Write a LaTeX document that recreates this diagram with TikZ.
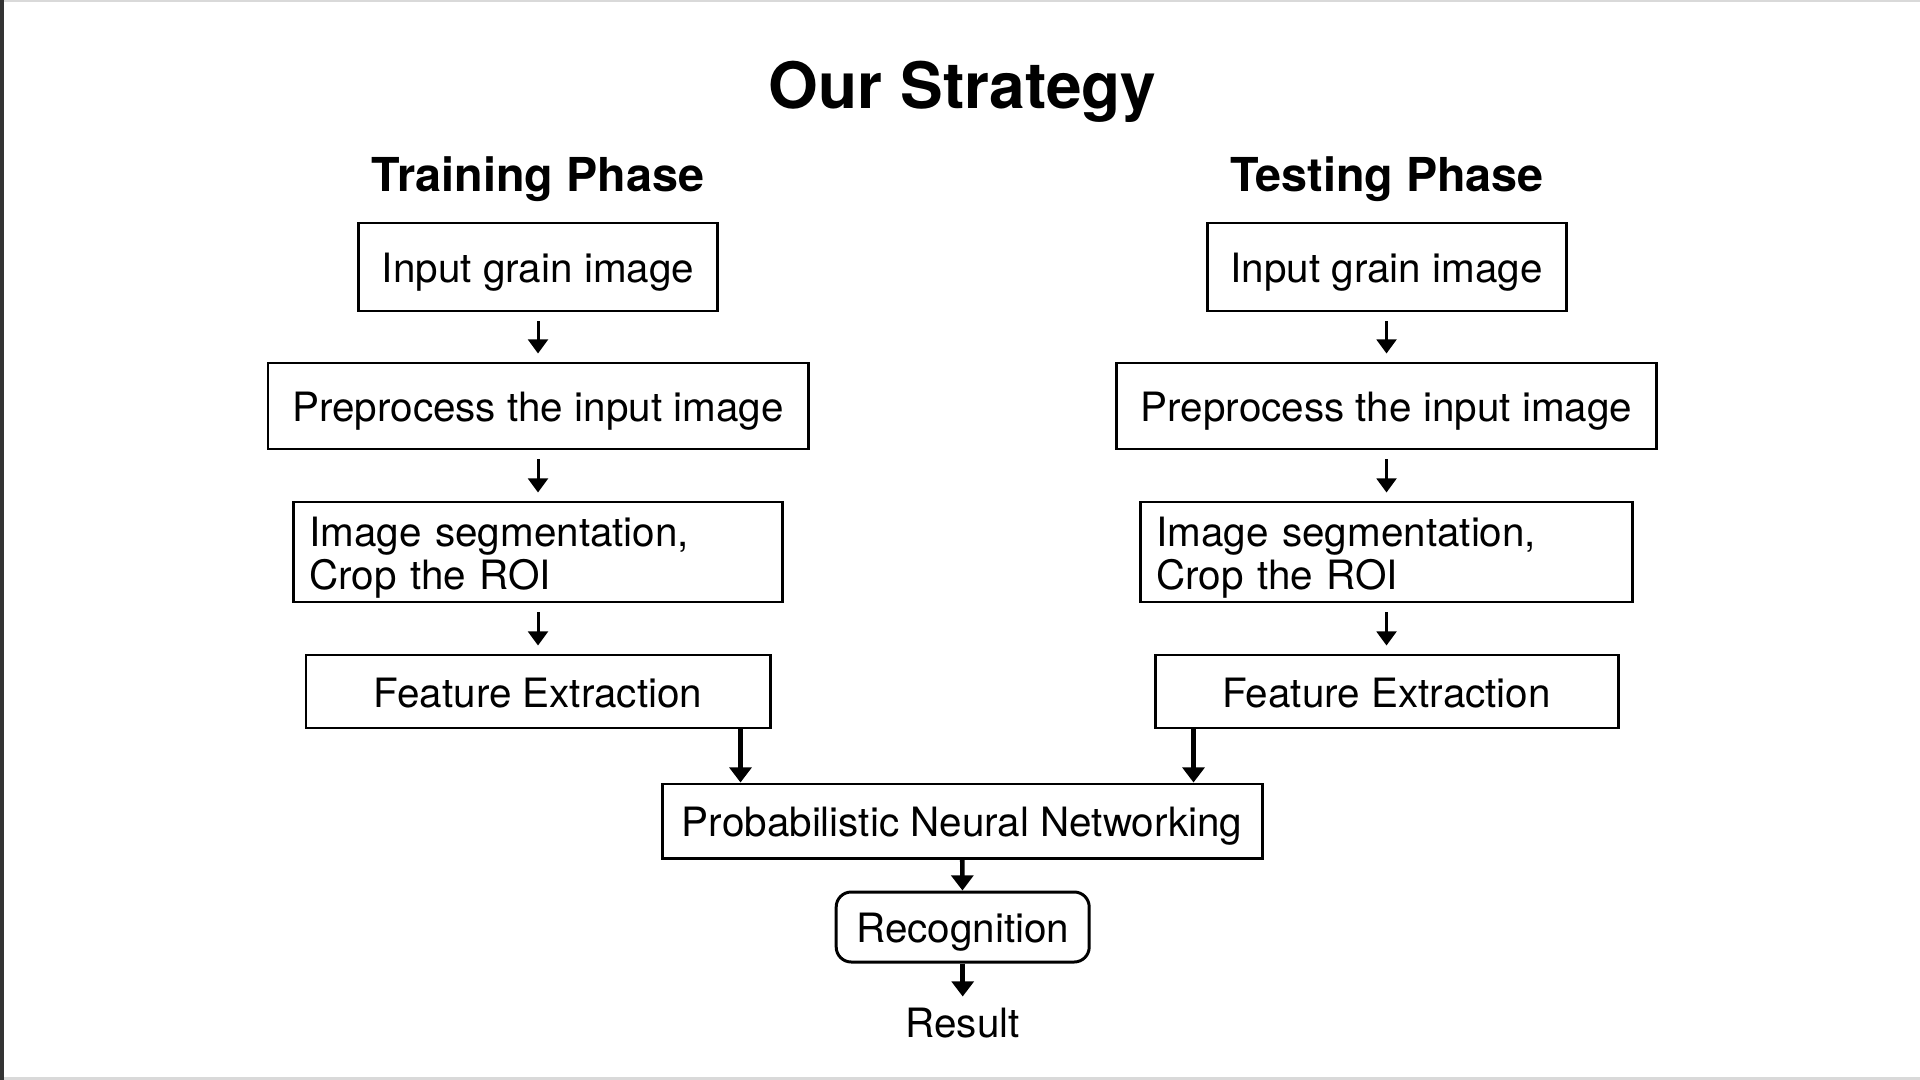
\documentclass[tikz,border=0pt]{standalone}
\usepackage{fontspec}
\setmainfont{TeX Gyre Heros}
\usetikzlibrary{arrows.meta}

\begin{document}
\begin{tikzpicture}

    \useasboundingbox (0,0) rectangle (19.2,-10.8);
    \draw [gray!30, line width=0.8pt] (0,-0.01) -- (19.2,-0.01);
    \draw [gray!30, line width=0.8pt] (0,-10.785) -- (19.2,-10.785);
    \draw [black!80, line width=0.9pt] (0.02,0) -- (0.02,-10.8);

    % Headings %
    \node [anchor=base, font=\fontsize{18.2}{20}\selectfont\bfseries] (0) at (9.627,-1.09) {Our Strategy};
    \node [anchor=base, font=\fontsize{13.3}{15}\selectfont\bfseries] (a) at (5.38,-1.917) {Training Phase};
    \node [anchor=base, font=\fontsize{13.3}{15}\selectfont\bfseries] (b) at (13.87,-1.917) {Testing Phase};

    \begin{scope}[every node/.style={draw,rectangle,line width=0.85pt,inner sep=0pt,text height=0.31cm,text depth=0cm,font=\fontsize{11.5}{12.4}\selectfont}]
        \node [minimum width=3.59cm, minimum height=0.88cm] (1) at (5.38,-2.67) {Input grain image};
        \node [minimum width=5.40cm, minimum height=0.86cm] (2) at (5.38,-4.06) {Preprocess the input image};
        \node [minimum width=4.64cm, minimum height=0.73cm] (4) at (5.38,-6.915) {Feature Extraction};
        \node [minimum width=3.59cm, minimum height=0.88cm] (5) at (13.865,-2.67) {Input grain image};
        \node [minimum width=5.40cm, minimum height=0.86cm] (6) at (13.865,-4.06) {Preprocess the input image};
        \node [minimum width=4.63cm, minimum height=0.73cm] (8) at (13.865,-6.915) {Feature Extraction};
        \node [minimum width=6.00cm, minimum height=0.74cm] (9) at (9.62,-8.21) {Probabilistic Neural Networking};
        \node [minimum width=2.53cm, minimum height=0.70cm, rounded corners=0.15cm] (10) at (9.627,-9.27) {Recognition};
        \node [draw=none, anchor=base] (11) at (9.627,-10.37) {Result};
    \end{scope}

    \begin{scope}[every node/.style={draw,rectangle,line width=0.85pt,inner xsep=0.16cm,inner ysep=0pt,align=left,text width=4.57cm,text height=0.30cm,text depth=0.42cm,minimum height=1.0cm,font=\fontsize{11.5}{12.4}\selectfont}]
        \node (3) at (5.38,-5.52) {Image segmentation,\\Crop the ROI};
        \node [text width=4.60cm] (7) at (13.865,-5.52) {Image segmentation,\\Crop the ROI};
    \end{scope}

    \begin{scope}[>={Triangle[length=4pt,width=5.6pt]}, every edge/.style={draw,line width=0.85pt,shorten <=0.09cm,shorten >=0.08cm}]
        % Training column %
        \path [->] (1) edge (2);
        \path [->] (2) edge (3);
        \path [->] (3) edge (4);
        % Testing column %
        \path [->] (5) edge (6);
        \path [->] (6) edge (7);
        \path [->] (7) edge (8);
    \end{scope}

    \begin{scope}[>={Triangle[length=4.3pt,width=6.2pt]}, every edge/.style={draw,line width=1.3pt}]
        \path [->] ([xshift=-0.31cm]4.south east) edge ([xshift=-0.31cm]4.south east |- 9.north);
        \path [->] ([xshift=0.40cm]8.south west) edge ([xshift=0.40cm]8.south west |- 9.north);
        \path [->] (9) edge (10);
        \path [->] (10) edge [shorten >=0.08cm] (11);
    \end{scope}

\end{tikzpicture}
\end{document}
